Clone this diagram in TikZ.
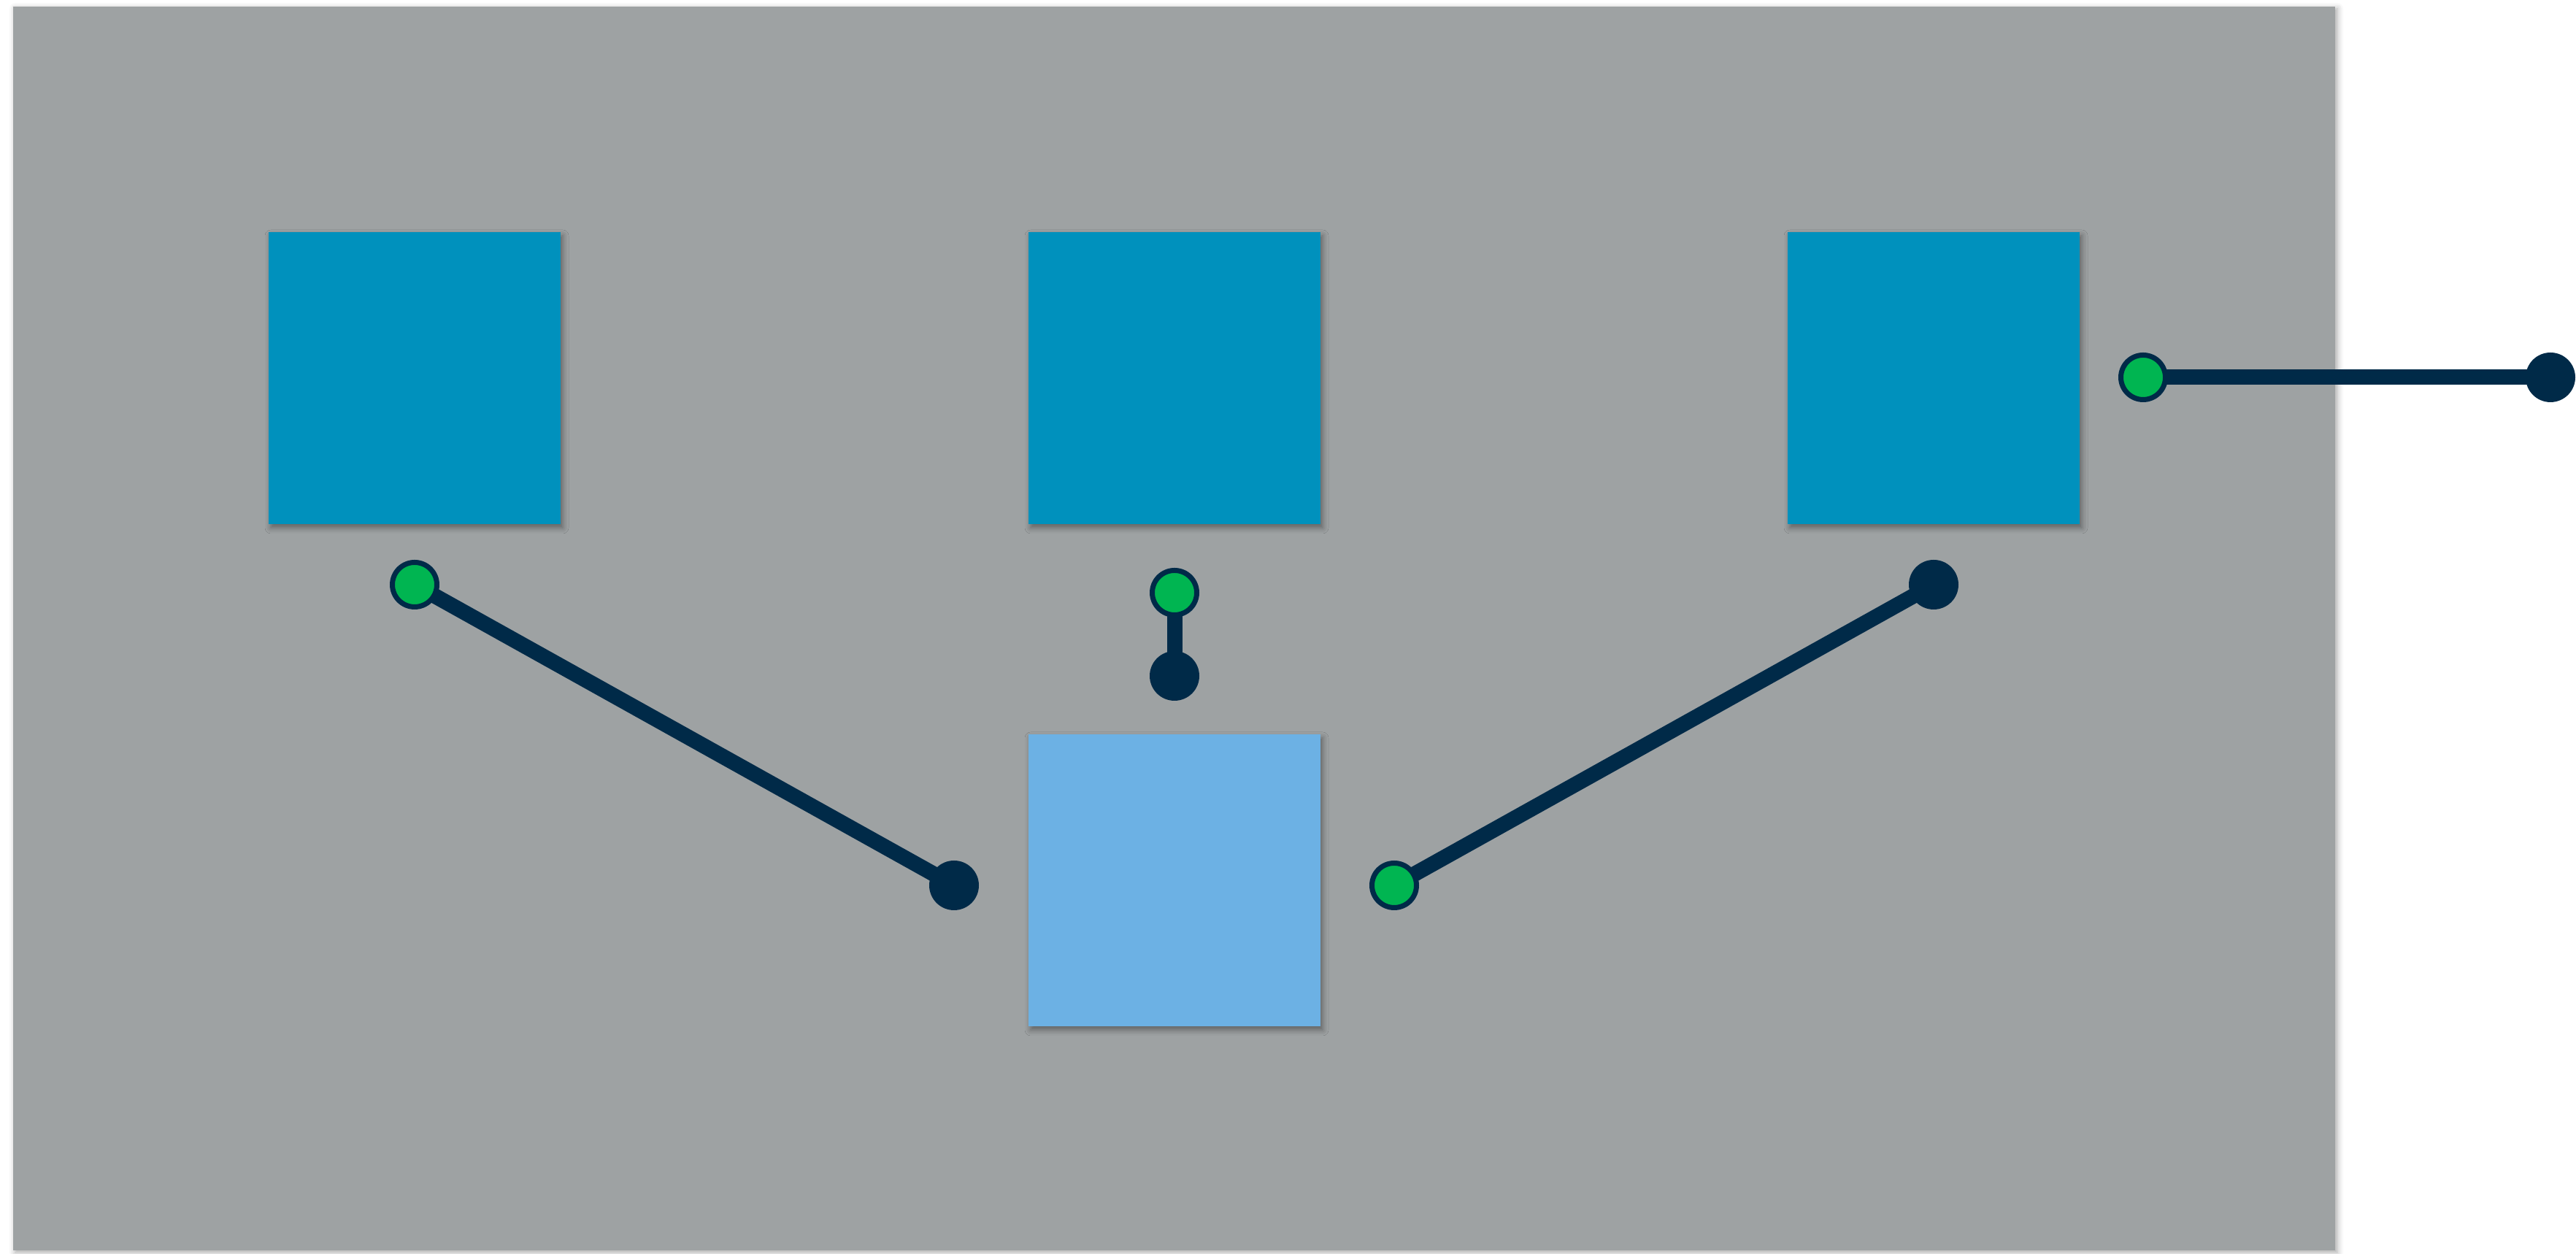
\documentclass[tikz,border=0pt]{standalone}
\usetikzlibrary{shadows.blur}
\definecolor{panelgray}{RGB}{158,162,163}
\definecolor{unitblue}{RGB}{0,145,189}
\definecolor{hostblue}{RGB}{108,177,228}
\definecolor{portgreen}{RGB}{0,181,81}
\definecolor{navy}{RGB}{0,42,72}
\begin{document}
\begin{tikzpicture}[
		unit/.style={rectangle, minimum size=4cm, inner sep=0, fill=unitblue,
			blur shadow={shadow xshift=0.03cm, shadow yshift=-0.05cm, shadow blur radius=0.08cm, shadow opacity=40}},
		host/.style={unit, fill=hostblue},
		green port/.style={circle, minimum size=0.61cm, inner sep=0, fill=portgreen, draw=navy, line width=0.07cm},
		navy port/.style={circle, minimum size=0.68cm, inner sep=0, fill=navy},
		wire/.style={draw=navy, line width=0.21cm, shorten <=-0.12cm, shorten >=-0.03cm}
	]
		\useasboundingbox (0,0) rectangle (35.29,17.18);
		\fill[panelgray, blur shadow={shadow xshift=0.03cm, shadow yshift=-0.03cm, shadow blur radius=0.08cm, shadow opacity=35}] (0.18,0.05) rectangle (31.99,17.09);
		\node (U1) at (5.68,12.0) [unit] {};
		\node (U2) at (16.09,12.0) [unit] {};
		\node (U3) at (26.49,12.0) [unit] {};
		\node (H) at (16.09,5.12) [host] {};
		\node (G1) at (5.68,9.17) [green port] {};
		\node (D1) at (13.07,5.05) [navy port] {} edge [wire] (G1);
		\node (G2) at (16.09,9.06) [green port] {};
		\node (D2) at (16.09,7.92) [navy port] {} edge [wire] (G2);
		\node (G3) at (19.10,5.05) [green port] {};
		\node (D3) at (26.49,9.17) [navy port] {} edge [wire] (G3);
		\node (G4) at (29.36,12.01) [green port] {};
		\node (D4) at (34.94,12.01) [navy port] {} edge [wire] (G4);
	\end{tikzpicture}
\end{document}
